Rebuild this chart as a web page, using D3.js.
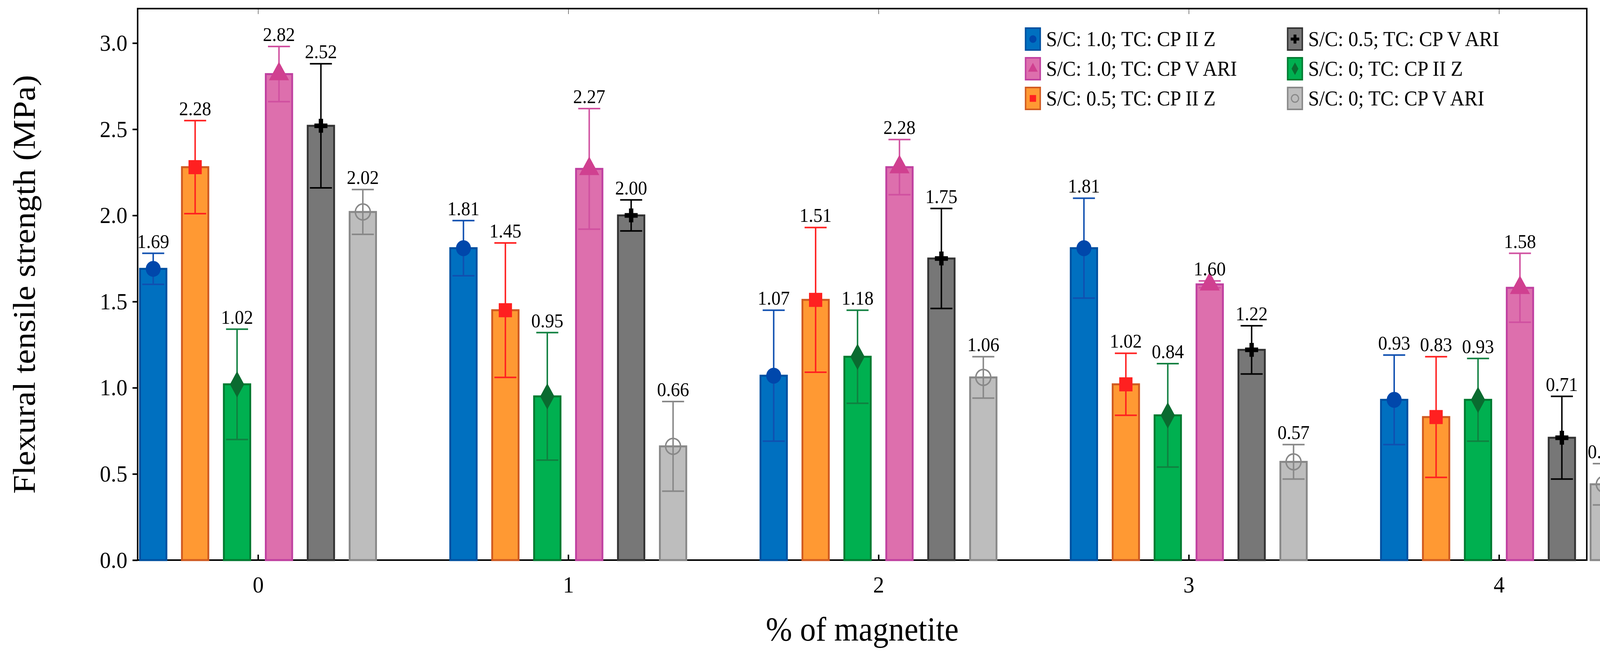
<!DOCTYPE html>
<html>
<head>
<meta charset="utf-8">
<script src="https://cdn.jsdelivr.net/npm/d3@7"></script>
<style>
  html, body { margin: 0; padding: 0; background: #fff; overflow: hidden; }
  #chart svg { display: block; width: 100vw; height: 100vh; }
  text { font-family: "Liberation Serif", "DejaVu Serif", serif; }
</style>
</head>
<body>
<div id="chart"></div>
<script>
// data
const groups = [0, 1, 2, 3, 4];
const seriesNames = [
  "S/C: 1.0; TC: CP II Z", "S/C: 0.5; TC: CP II Z", "S/C: 0; TC: CP II Z",
  "S/C: 1.0; TC: CP V ARI", "S/C: 0.5; TC: CP V ARI", "S/C: 0; TC: CP V ARI"
];
// means per series, one entry per group
const means = [
  [1.69, 1.81, 1.07, 1.81, 0.93],
  [2.28, 1.45, 1.51, 1.02, 0.83],
  [1.02, 0.95, 1.18, 0.84, 0.93],
  [2.82, 2.27, 2.28, 1.60, 1.58],
  [2.52, 2.00, 1.75, 1.22, 0.71],
  [2.02, 0.66, 1.06, 0.57, 0.44]
];
const errs = [
  [0.09, 0.16, 0.38, 0.29, 0.26],
  [0.27, 0.39, 0.42, 0.18, 0.35],
  [0.32, 0.37, 0.27, 0.30, 0.24],
  [0.16, 0.35, 0.16, 0.02, 0.20],
  [0.36, 0.09, 0.29, 0.14, 0.24],
  [0.13, 0.26, 0.12, 0.10, 0.12]
];
const yTicks = [0, 0.5, 1.0, 1.5, 2.0, 2.5, 3.0];

const fills   = ["#0070c0", "#ff9933", "#00b050", "#dd6fad", "#777777", "#bdbdbd"];
const strokes = ["#0050a0", "#d05a20", "#007a30", "#c040a0", "#333333", "#888888"];
const errCol  = ["#1050b0", "#ff2020", "#108040", "#d050a0", "#000000", "#888888"];
const markCol = ["#0047ab", "#ff2020", "#0a6b30", "#d04090", "#000000", "#888888"];
const markers = ["circle", "square", "diamond", "triangle", "plus", "ocircle"];

const W = 4359, H = 1700;
const m = { left: 375, right: 36, top: 22, bottom: 266 };

const svg = d3.select("#chart").append("svg")
  .attr("viewBox", `0 0 ${W} ${H}`)
  .attr("preserveAspectRatio", "none");

const x = d3.scaleLinear().domain([-0.388, 4.283]).range([m.left, W - m.right]);
const y = d3.scaleLinear().domain([0, 3.2]).range([H - m.bottom, m.top]);
const step = x(1) - x(0);
const off = d3.scaleBand().domain(d3.range(6)).range([-3 * 0.1268 * step, 3 * 0.1268 * step]).paddingInner(0.37);
const bw = off.bandwidth();

// frame
svg.append("rect").attr("x", m.left).attr("y", m.top)
  .attr("width", W - m.left - m.right).attr("height", H - m.top - m.bottom)
  .attr("fill", "none").attr("stroke", "#000").attr("stroke-width", 4);

// axes
const yAxis = svg.append("g").attr("transform", `translate(${m.left},0)`)
  .call(d3.axisLeft(y).tickValues(yTicks).tickFormat(d3.format(".1f")).tickSize(14).tickPadding(14));
const xAxis = svg.append("g").attr("transform", `translate(0,${H - m.bottom})`)
  .call(d3.axisBottom(x).tickValues(groups).tickFormat(d3.format("d")).tickSize(-14).tickPadding(40));
svg.append("g").attr("transform", `translate(0,${m.top})`)
  .call(d3.axisTop(x).tickValues(groups).tickSize(-14).tickFormat(""));
[yAxis, xAxis].forEach(a => {
  a.selectAll("line").attr("stroke-width", 4);
  a.selectAll("text").style("font-size", "60px").attr("fill", "#000");
});
svg.selectAll(".domain").remove();

const symbolOf = (k, s) => {
  const map = { circle: d3.symbolCircle, square: d3.symbolSquare, diamond: d3.symbolDiamond,
                triangle: d3.symbolTriangle, plus: d3.symbolCross, ocircle: d3.symbolCircle };
  return d3.symbol().type(map[k]).size(s)();
};

seriesNames.forEach((name, si) => {
  const g = svg.append("g");
  groups.forEach((gv, gi) => {
    const v = means[si][gi], e = errs[si][gi];
    const cx = x(gv) + off(si) + bw / 2;
    g.append("rect").attr("x", cx - bw / 2).attr("y", y(v))
      .attr("width", bw).attr("height", y(0) - y(v))
      .attr("fill", fills[si]).attr("stroke", strokes[si]).attr("stroke-width", 5);
    // error bar
    const ec = errCol[si];
    g.append("line").attr("x1", cx).attr("x2", cx).attr("y1", y(v - e)).attr("y2", y(v + e))
      .attr("stroke", ec).attr("stroke-width", 4);
    [v - e, v + e].forEach(t => g.append("line").attr("x1", cx - 30).attr("x2", cx + 30)
      .attr("y1", y(t)).attr("y2", y(t)).attr("stroke", ec).attr("stroke-width", 4));
    // marker
    const hollow = markers[si] === "ocircle";
    g.append("path").attr("d", symbolOf(markers[si], markers[si] === "plus" ? 700 : 1300))
      .attr("transform", `translate(${cx},${y(v)})`)
      .attr("fill", hollow ? "none" : markCol[si])
      .attr("stroke", hollow ? markCol[si] : "none").attr("stroke-width", 4);
    // value label
    g.append("text").attr("x", cx).attr("y", y(v + e) - 14)
      .attr("text-anchor", "middle").style("font-size", "50px").text(v.toFixed(2));
  });
});

// axis titles
svg.append("text").attr("x", (m.left + W - m.right) / 2).attr("y", 1640)
  .attr("text-anchor", "middle").style("font-size", "86px").text("% of magnetite");
svg.append("text").attr("transform", `translate(95,${(m.top + H - m.bottom) / 2}) rotate(-90)`)
  .attr("text-anchor", "middle").style("font-size", "86px").text("Flexural tensile strength (MPa)");

// legend
const legOrder = [0, 3, 1, 4, 2, 5];
legOrder.forEach((si, i) => {
  const col = Math.floor(i / 3), row = i % 3;
  const lx = col === 0 ? 2794 : 3508, ly = 100 + row * 76;
  svg.append("rect").attr("x", lx).attr("y", ly - 28).attr("width", 40).attr("height", 56)
    .attr("fill", fills[si]).attr("stroke", strokes[si]).attr("stroke-width", 4);
  const hollow = markers[si] === "ocircle";
  svg.append("path").attr("d", symbolOf(markers[si], 300))
    .attr("transform", `translate(${lx + 20},${ly})`)
    .attr("fill", hollow ? "none" : markCol[si])
    .attr("stroke", hollow ? markCol[si] : "none").attr("stroke-width", 3);
  svg.append("text").attr("x", lx + 56).attr("y", ly + 18)
    .style("font-size", "54px").text(seriesNames[si]);
});
</script>
</body>
</html>
